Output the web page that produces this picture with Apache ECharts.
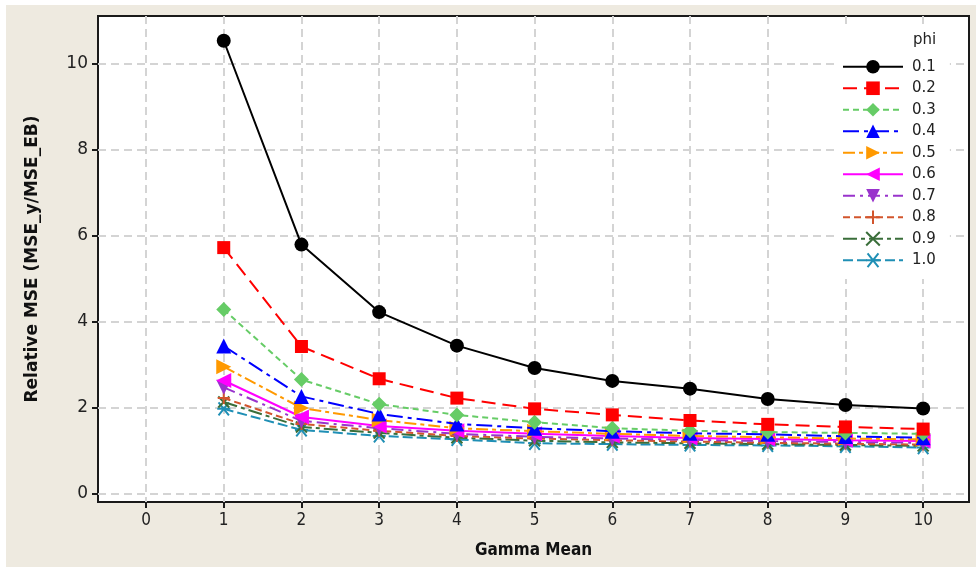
<!DOCTYPE html>
<html>
<head>
<meta charset="utf-8">
<title>Relative MSE vs Gamma Mean</title>
<script src="https://cdn.jsdelivr.net/npm/echarts@6/dist/echarts.min.js"></script>
<style>
  html, body { margin: 0; padding: 0; background: #fff; }
  #chart { width: 976px; height: 567px; }
</style>
</head>
<body>
<div id="chart"></div>
<script>
    // x values (Gamma Mean)
    const gammaMean = [1, 2, 3, 4, 5, 6, 7, 8, 9, 10];
    const xTicks = [0, 1, 2, 3, 4, 5, 6, 7, 8, 9, 10];
    const yTicks = [0, 2, 4, 6, 8, 10];
    const phiNames = ['0.1', '0.2', '0.3', '0.4', '0.5', '0.6', '0.7', '0.8', '0.9', '1.0'];

    // relative MSE for each phi
    const phi01 = [10.54, 5.80, 4.23, 3.45, 2.93, 2.63, 2.45, 2.21, 2.07, 1.99];
    const phi02 = [5.73, 3.43, 2.68, 2.23, 1.98, 1.84, 1.71, 1.62, 1.56, 1.51];
    const phi03 = [4.29, 2.66, 2.09, 1.84, 1.67, 1.53, 1.47, 1.44, 1.42, 1.40];
    const phi04 = [3.44, 2.27, 1.86, 1.63, 1.53, 1.46, 1.41, 1.39, 1.34, 1.31];
    const phi05 = [2.96, 2.00, 1.72, 1.53, 1.46, 1.40, 1.35, 1.32, 1.29, 1.27];
    const phi06 = [2.64, 1.79, 1.58, 1.47, 1.40, 1.35, 1.30, 1.28, 1.25, 1.23];
    const phi07 = [2.48, 1.70, 1.53, 1.40, 1.33, 1.29, 1.26, 1.23, 1.21, 1.19];
    const phi08 = [2.23, 1.63, 1.47, 1.35, 1.29, 1.25, 1.22, 1.19, 1.17, 1.15];
    const phi09 = [2.14, 1.56, 1.42, 1.31, 1.24, 1.20, 1.18, 1.16, 1.14, 1.12];
    const phi10 = [1.98, 1.49, 1.35, 1.27, 1.18, 1.16, 1.14, 1.13, 1.11, 1.08];
    const allValues = [phi01, phi02, phi03, phi04, phi05, phi06, phi07, phi08, phi09, phi10];

    const colors = ['#000000', '#FF0000', '#66CC66', '#0000FF', '#FF9900',
        '#FF00FF', '#9933CC', '#D2552D', '#3A6E3A', '#1F8FB5'];
    const dashes = ['solid', [14, 7], [6, 4], [16, 5, 4, 5], [12, 4, 4, 4],
        'solid', [12, 5, 3, 5], [7, 4], [14, 4, 4, 4], [10, 4]];
    const symbols = ['circle', 'rect', 'diamond', 'triangle', 'triangle', 'triangle', 'triangle',
        'path://M5,0L5,10M0,5L10,5',
        'path://M0,0L10,10M10,0L0,10',
        'path://M1,1L9,9M9,1L1,9M0,5L10,5'];
    const rotates = [0, 0, 0, 0, -90, 90, 180, 0, 0, 0];
    const sizes = [14, 13, 15, 15, 15, 15, 15, 12, 11, 13];

    let series = [];
    for (let i = 0; i < allValues.length; i++) {
        const isPath = symbols[i].indexOf('path://') === 0;
        series.push({
            name: phiNames[i],
            type: 'line',
            data: gammaMean.map((x, k) => [x, allValues[i][k]]),
            symbol: symbols[i],
            symbolSize: sizes[i],
            symbolRotate: rotates[i],
            showAllSymbol: true,
            z: 10 - i,
            lineStyle: {color: colors[i], width: 2, type: dashes[i]},
            itemStyle: isPath
                ? {color: 'none', borderColor: colors[i], borderWidth: 2}
                : {color: colors[i], borderWidth: 0},
            emphasis: {disabled: true}
        });
    }

    const gridLine = {show: true, lineStyle: {color: '#D4D4D4', width: 2, type: [8, 5]}};

    let myChart = echarts.init(document.getElementById('chart'));
    myChart.setOption({
        animation: false,
        backgroundColor: '#ffffff',
        graphic: [
            {type: 'rect', z: -10, shape: {x: 6, y: 5, width: 976, height: 567}, style: {fill: '#EEEAE0'}},
            {type: 'text', left: 913, top: 33, z: 100,
                style: {text: 'phi', font: '15px "DejaVu Sans"', fill: '#222'}}
        ],
        grid: {
            left: 98, top: 16, right: 7, bottom: 65,
            show: true, backgroundColor: '#ffffff',
            borderColor: '#1a1a1a', borderWidth: 2
        },
        legend: {
            data: phiNames,
            orient: 'vertical',
            left: 836, top: 28,
            padding: [28, 14, 8, 6],
            backgroundColor: '#ffffff',
            itemWidth: 60, itemHeight: 17, itemGap: 0,
            selectedMode: false,
            textStyle: {fontFamily: 'DejaVu Sans', fontSize: 15, lineHeight: 21.5, color: '#222', padding: [0, 0, 0, 4]}
        },
        xAxis: {
            type: 'value',
            min: -0.618, max: 10.59,
            name: 'Gamma Mean',
            nameLocation: 'middle',
            nameGap: 40,
            nameTextStyle: {fontFamily: 'DejaVu Sans Condensed', fontWeight: 'bold', fontSize: 17, color: '#111'},
            axisLine: {show: false, onZero: false},
            axisTick: {show: true, length: 6, customValues: xTicks, lineStyle: {color: '#1a1a1a', width: 2}},
            axisLabel: {customValues: xTicks, margin: 10, fontFamily: 'DejaVu Sans Condensed', fontSize: 17, color: '#222'},
            splitLine: Object.assign({customValues: xTicks}, gridLine)
        },
        yAxis: {
            type: 'value',
            min: -0.186, max: 11.116,
            name: 'Relative MSE (MSE_y/MSE_EB)',
            nameLocation: 'middle',
            nameGap: 57,
            nameTextStyle: {fontFamily: 'DejaVu Sans', fontWeight: 'bold', fontSize: 17, color: '#111'},
            axisLine: {show: false, onZero: false},
            axisTick: {show: true, length: 6, customValues: yTicks, lineStyle: {color: '#1a1a1a', width: 2}},
            axisLabel: {customValues: yTicks, margin: 10, fontFamily: 'DejaVu Sans', fontSize: 17, color: '#222'},
            splitLine: Object.assign({customValues: yTicks}, gridLine)
        },
        series: series
    });
</script>
</body>
</html>
